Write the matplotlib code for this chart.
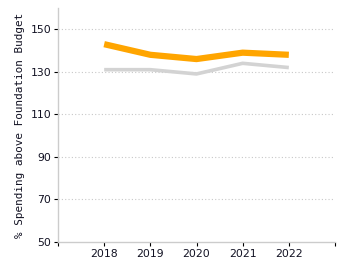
import matplotlib
matplotlib.use("Agg")
import matplotlib.pyplot as plt

years = [2018, 2019, 2020, 2021, 2022]
orange_vals = [143, 138, 136, 139, 138]
gray_vals = [131, 131, 129, 134, 132]
y_ticks = [50, 70, 90, 110, 130, 150]
ylabel = "% Spending above Foundation Budget"

plt.rcParams['font.family'] = ['DejaVu Sans']
fig = plt.figure(figsize=(3.5, 2.75), dpi=100)
ax = fig.add_axes([58/350, 1-242/275, (335-58)/350, (242-8)/275])

ax.plot(years, gray_vals, color='#d3d3d3', lw=2.6, solid_capstyle='butt', zorder=3)
ax.plot(years, orange_vals, color='#ffa500', lw=4.5, solid_capstyle='butt', zorder=4)

ax.set_xlim(2017, 2023)
ax.set_ylim(50, 160)
ax.set_yticks(y_ticks)
ax.set_yticklabels([str(v) for v in y_ticks], fontsize=7.8, color='#111122')
ax.set_xticks([2017] + years + [2023])
ax.set_xticklabels([''] + [str(y) for y in years] + [''], fontsize=7.8, color='#111122')
for v in y_ticks[1:]:
    ax.axhline(v, color='#c8c8c8', lw=0.8, ls=(0, (1, 2)), zorder=1)

for s in ['top', 'right']:
    ax.spines[s].set_visible(False)
for s in ['left', 'bottom']:
    ax.spines[s].set_color('#cccccc')
    ax.spines[s].set_linewidth(1)
ax.tick_params(axis='both', length=3, width=0.8, color='black', pad=2)
ax.set_ylabel(ylabel, fontsize=7.9, family='DejaVu Sans Mono', color='#111122')
ax.yaxis.set_label_coords(-0.12, 0.5)

fig.savefig("out.png", dpi=100)
